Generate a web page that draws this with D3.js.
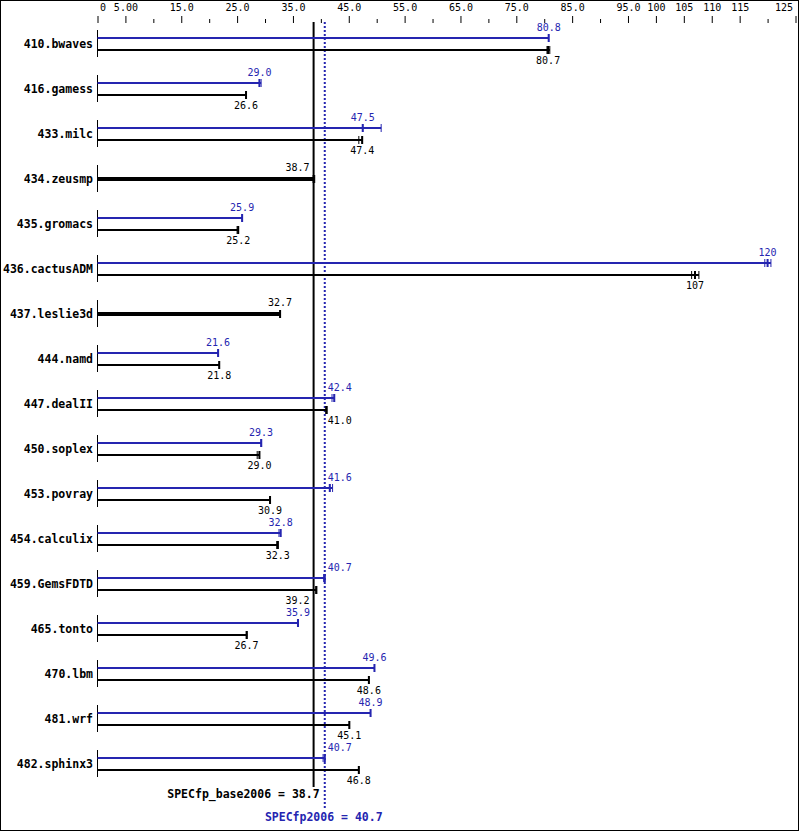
<!DOCTYPE html>
<html>
<head>
<meta charset="utf-8">
<script src="https://cdn.jsdelivr.net/npm/d3@7/dist/d3.min.js"></script>
<style>
  html, body { margin: 0; padding: 0; background: #fff; }
  svg { display: block; }
  text { font-family: "DejaVu Sans Mono", "Liberation Mono", monospace; }
</style>
</head>
<body>
<div id="chart"></div>
<script>
// ---------------- data ----------------
const benchmarks = ["410.bwaves","416.gamess","433.milc","434.zeusmp","435.gromacs","436.cactusADM",
  "437.leslie3d","444.namd","447.dealII","450.soplex","453.povray","454.calculix","459.GemsFDTD",
  "465.tonto","470.lbm","481.wrf","482.sphinx3"];
const peakValues = [80.8, 29.0, 47.5, null, 25.9, 120, null, 21.6, 42.4, 29.3, 41.6, 32.8, 40.7, 35.9, 49.6, 48.9, 40.7];
const baseValues = [80.7, 26.6, 47.4, 38.7, 25.2, 107, 32.7, 21.8, 41.0, 29.0, 30.9, 32.3, 39.2, 26.7, 48.6, 45.1, 46.8];
// individual run results (shown as small ticks at bar ends)
const peakRuns = [[80.8],[29.0,29.3],[47.5,50.8],null,[25.9],[119.5,120.0,120.6],null,[21.6],[42.0,42.4],[29.4],
  [41.6,42.1],[32.5,32.8],[40.5,40.7],[36.0],[49.6],[48.9],[40.4,40.7]];
const baseRuns = [[80.5,80.7,81.0],[26.6],[46.8,47.4],[38.7,38.9],[25.0,25.2],[106.4,107.0,107.7],[32.7],[21.8],
  [40.9,41.0,41.1],[28.6,29.0],[30.9],[32.1,32.3],[39.1,39.2],[26.8],[48.6],[45.1],[46.8]];
const meanBase = 38.7;
const meanPeak = 40.7;
const majorTicks = [0,5,15,25,35,45,55,65,75,85,95,100,105,110,115,125];
const majorLabels = ["0","5.00","15.0","25.0","35.0","45.0","55.0","65.0","75.0","85.0","95.0","100","105","110","115","125"];
const minorTicks = [10,20,30,40,50,60,70,80,90,120];

// ---------------- layout ----------------
const W = 799, H = 831;
const BLUE = "#2525b0";
const fmt = d3.format(".3r");

const svg = d3.select("#chart").append("svg").attr("width", W).attr("height", H);
svg.append("rect").attr("x",0.5).attr("y",0.5).attr("width",W-1).attr("height",H-1)
  .attr("fill","#fff").attr("stroke","#000").attr("stroke-width",1);

const x = d3.scaleLinear().domain([0,125]).range([97.5, 795.5]);
const y = d3.scalePoint().domain(benchmarks).range([44, 764]);

// axis
const axisY = 23;
const gMaj = svg.append("g").attr("transform",`translate(0,${axisY})`)
  .call(d3.axisTop(x).tickValues(majorTicks).tickFormat((d,i)=>majorLabels[i]).tickSize(7).tickPadding(5));
const gMin = svg.append("g").attr("transform",`translate(0,${axisY})`)
  .call(d3.axisTop(x).tickValues(minorTicks).tickFormat("").tickSize(4));
[gMaj,gMin].forEach(g=>{
  g.select(".domain").remove();
  g.selectAll("line").attr("stroke","#000").attr("stroke-width",1);
});
gMaj.selectAll("text").attr("font-size","10px").attr("fill","#000").attr("font-family",null);
gMaj.selectAll(".tick").filter(d=>d===0).select("text").attr("text-anchor","start").attr("x",2);
gMaj.selectAll(".tick").filter(d=>d===125).select("text").attr("text-anchor","end").attr("x",-3);

// mean lines
const xb = x(meanBase), xp = x(meanPeak);
svg.append("line").attr("x1",xb).attr("x2",xb).attr("y1",22).attr("y2",787)
  .attr("stroke","#000").attr("stroke-width",2);
svg.append("line").attr("x1",xp).attr("x2",xp).attr("y1",22).attr("y2",808)
  .attr("stroke",BLUE).attr("stroke-width",2).attr("stroke-dasharray","2,2");

// rows
const rows = benchmarks.map((b,i)=>({name:b, peak:peakValues[i], base:baseValues[i], pr:peakRuns[i], br:baseRuns[i]}));
const g = svg.append("g");

function labelPos(v){
  const cx = x(v), w = fmt(v).length*6;
  const l = cx - w/2, r = cx + w/2;
  if (r > xb - 2 && l < xp + 2) {
    if (v < (meanBase+meanPeak)/2) return {x: xb-4, anchor:"end"};
    return {x: xp+3, anchor:"start"};
  }
  return {x: cx, anchor:"middle"};
}

function drawBar(parent, v, runs, yy, color, thick){
  const maxV = d3.max(runs.concat([v]));
  parent.append("line").attr("x1",x(0)).attr("x2",x(maxV)).attr("y1",yy).attr("y2",yy)
    .attr("stroke",color).attr("stroke-width",thick);
  runs.forEach(r=>{
    parent.append("line").attr("x1",x(r)).attr("x2",x(r)).attr("y1",yy-4).attr("y2",yy+4)
      .attr("stroke",color).attr("stroke-width", 1);
  });
  parent.append("line").attr("x1",x(v)).attr("x2",x(v)).attr("y1",yy-4).attr("y2",yy+4)
    .attr("stroke",color).attr("stroke-width", 2);
}

rows.forEach(d=>{
  const c = y(d.name);
  const row = g.append("g");
  row.append("line").attr("x1",97.5).attr("x2",97.5).attr("y1",c-14).attr("y2",c+13)
    .attr("stroke","#000").attr("stroke-width",1);
  row.append("text").attr("x",93).attr("y",c+4).attr("text-anchor","end")
    .attr("font-size","11.5px").attr("font-weight","bold").attr("fill","#000").text(d.name);
  if (d.peak != null) {
    drawBar(row, d.peak, d.pr, c-6, BLUE, 2);
    drawBar(row, d.base, d.br, c+6, "#000", 2);
    const lp = labelPos(d.peak);
    row.append("text").attr("x",lp.x).attr("y",c-13).attr("text-anchor",lp.anchor)
      .attr("font-size","10px").attr("fill",BLUE).text(fmt(d.peak));
    const lb = labelPos(d.base);
    row.append("text").attr("x",lb.x).attr("y",c+20).attr("text-anchor",lb.anchor)
      .attr("font-size","10px").attr("fill","#000").text(fmt(d.base));
  } else {
    drawBar(row, d.base, d.br, c, "#000", 4);
    const lb = labelPos(d.base);
    row.append("text").attr("x",lb.x).attr("y",c-8).attr("text-anchor",lb.anchor)
      .attr("font-size","10px").attr("fill","#000").text(fmt(d.base));
  }
});

// summary labels
svg.append("text").attr("x",xb+6).attr("y",798).attr("text-anchor","end")
  .attr("font-size","11.5px").attr("font-weight","bold").attr("fill","#000")
  .text(`SPECfp_base2006 = ${fmt(meanBase)}`);
svg.append("text").attr("x",xp-1).attr("y",821).attr("text-anchor","middle")
  .attr("font-size","11.5px").attr("font-weight","bold").attr("fill",BLUE)
  .text(`SPECfp2006 = ${fmt(meanPeak)}`);
</script>
</body>
</html>
